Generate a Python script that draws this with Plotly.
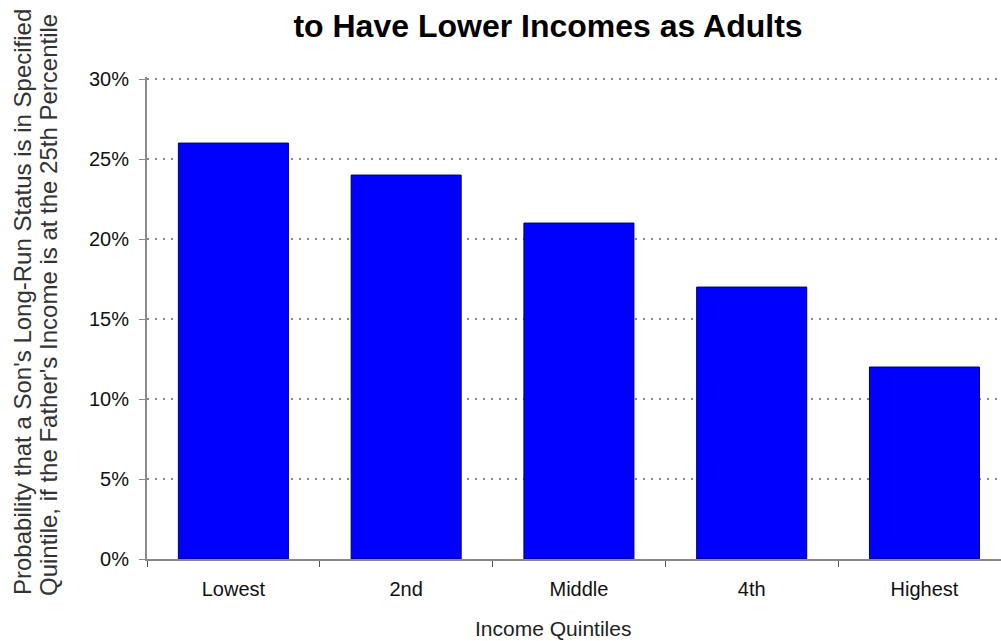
import plotly.graph_objects as go

categories = ["Lowest", "2nd", "Middle", "4th", "Highest"]
values = [0.26, 0.24, 0.21, 0.17, 0.12]
y_ticks = [0, 0.05, 0.10, 0.15, 0.20, 0.25, 0.30]

title_text = "to Have Lower Incomes as Adults"
x_title = "Income Quintiles"
y_title_1 = "Probability that a Son's Long-Run Status is in Specified"
y_title_2 = "Quintile, if the Father's Income is at the 25th Percentile"

FONT = "Liberation Sans, Arial, sans-serif"

fig = go.Figure(go.Bar(
    x=categories, y=values,
    marker=dict(color="#0000FF", line=dict(color="#000066", width=1)),
))

fig.update_layout(
    width=1001, height=641,
    margin=dict(l=147, r=0, t=77, b=82),
    paper_bgcolor="white", plot_bgcolor="white",
    bargap=0.363,
    showlegend=False,
    font=dict(family=FONT, color="#222"),
    title=dict(text="<b>" + title_text + "</b>", x=548/1001, xanchor="center",
               xref="container", yref="container", y=1 - 26/641, yanchor="middle",
               font=dict(size=32, color="#000", family=FONT)),
    xaxis=dict(
        type="category", range=[-0.5, 4.443],
        showline=True, linecolor="#8a8a8a", linewidth=2,
        ticks="outside", tickson="boundaries", ticklen=6, tickcolor="#555", tickwidth=1,
        tickfont=dict(size=20, color="#111"),
        ticklabelstandoff=11,
        showgrid=False,
    ),
    yaxis=dict(
        range=[0, 0.3013], tickvals=y_ticks, tickformat=".0%",
        showline=True, linecolor="#8a8a8a", linewidth=2,
        ticks="outside", ticklen=6, tickcolor="#8a8a8a", tickwidth=1,
        tickfont=dict(size=20, color="#111"),
        ticklabelstandoff=6,
        showgrid=True, gridcolor="#8a8a8a", gridwidth=1.5, griddash="2px,6px",
        zeroline=False,
    ),
    annotations=[
        dict(text=x_title, xref="paper", yref="paper", x=(553-147)/854, y=(559-628)/482,
             xanchor="center", yanchor="middle", showarrow=False,
             font=dict(size=21, color="#222", family=FONT)),
        dict(text=y_title_1, xref="paper", yref="paper", x=(22-147)/854, y=(559-302)/482,
             xanchor="center", yanchor="middle", showarrow=False, textangle=-90,
             font=dict(size=24, color="#333", family=FONT)),
        dict(text=y_title_2, xref="paper", yref="paper", x=(48-147)/854, y=(559-305)/482,
             xanchor="center", yanchor="middle", showarrow=False, textangle=-90,
             font=dict(size=24, color="#333", family=FONT)),
    ],
)

fig.write_html("out.html")
